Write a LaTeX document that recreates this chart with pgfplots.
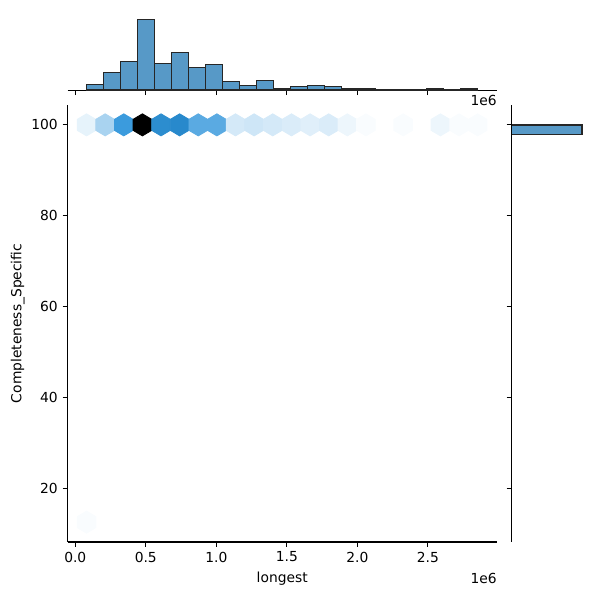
\documentclass[border=0pt]{standalone}
\usepackage{fontspec}
\setmainfont{DejaVu Sans}
\usepackage{pgfplots}
\pgfplotsset{compat=1.18}
\definecolor{histfill}{HTML}{5799C7}
\pgfdeclareplotmark{hexagon}{%
  \pgfpathmoveto{\pgfqpoint{0bp}{7.94bp}}%
  \pgfpathlineto{\pgfqpoint{6.70bp}{3.97bp}}%
  \pgfpathlineto{\pgfqpoint{6.70bp}{-3.97bp}}%
  \pgfpathlineto{\pgfqpoint{0bp}{-7.94bp}}%
  \pgfpathlineto{\pgfqpoint{-6.70bp}{-3.97bp}}%
  \pgfpathlineto{\pgfqpoint{-6.70bp}{3.97bp}}%
  \pgfpathclose
  \pgfusepathqfillstroke}
\pgfplotsset{
  mpl/.style={
    scale only axis,
    anchor=south west,
    tick align=outside,
    major tick length=3.5bp,
    tick style={line width=0.8bp, black},
    axis line style={-, line width=0.8bp, black},
    /pgf/number format/assume math mode=true,
    ticklabel style={font=\fontsize{10}{12}\selectfont},
    label style={font=\fontsize{10}{12}\selectfont},
  }
}
\pgfplotstableread{
x y c
0.080 100 4
0.212 100 14
0.344 100 32
0.476 100 71
0.608 100 36
0.740 100 37
0.872 100 27
1.004 100 27
1.136 100 7
1.268 100 8
1.400 100 7
1.533 100 6
1.665 100 5
1.797 100 6
1.929 100 3
2.061 100 1
2.325 100 1
2.589 100 3
2.721 100 1
2.853 100 1
0.080 12.5 1
}\hexdata
\pgfplotstableread{
x c
0.1403 6
0.2609 18
0.3814 29
0.5020 71
0.6226 27
0.7431 38
0.8637 23
0.9843 26
1.1048 9
1.2254 5
1.3460 10
1.4665 2
1.5871 4
1.7076 5
1.8282 4
1.9488 2
2.0693 1
2.1899 0
2.3105 0
2.4310 0
2.5516 2
2.6722 0
2.7927 1
}\histx
\begin{document}
\begin{tikzpicture}
\useasboundingbox (0,0) rectangle (432bp,432bp);
% main hexbin axis
\begin{axis}[mpl, name=main,
  at={(48.6bp,41.76bp)},
  width=309.24bp, height=314.64bp,
  xmin=-0.055, xmax=2.99, ymin=8.125, ymax=104.375,
  axis x line*=bottom, axis y line*=left,
  xtick={0,0.5,1,1.5,2,2.5},
  ytick={20,40,60,80,100},
  xticklabel style={/pgf/number format/fixed, /pgf/number format/fixed zerofill, /pgf/number format/precision=1},
  xlabel={longest}, ylabel={Completeness\_Specific},
  ylabel shift=-2bp,
  colormap={snsblue}{rgb=(1,1,1) rgb=(0.845,0.921,0.973) rgb=(0.690,0.842,0.947) rgb=(0.535,0.762,0.920) rgb=(0.380,0.683,0.893) rgb=(0.225,0.604,0.866) rgb=(0.134,0.513,0.775) rgb=(0.107,0.410,0.620) rgb=(0.080,0.308,0.465) rgb=(0.053,0.205,0.310) rgb=(0.027,0.103,0.155) rgb=(0,0,0)},
  point meta min=0, point meta max=71,
  clip=false,
]
\addplot[scatter, only marks, mark=hexagon, point meta=explicit,
  scatter/use mapped color={draw=mapped color, fill=mapped color},
  mark options={line width=0.6bp}]
  table[x=x, y=y, meta=c] {\hexdata};
\end{axis}
\node[anchor=north east, inner sep=0pt, font=\fontsize{10}{12}\selectfont] at ([yshift=-22bp]main.south east) {1e6};
% top marginal
\begin{axis}[mpl, name=top,
  at={(48.6bp,367.06bp)},
  width=309.24bp, height=53.4bp,
  xmin=-0.055, xmax=2.99, ymin=0, ymax=74.55,
  axis x line*=bottom, axis y line=none,
  xtick={0,0.5,1,1.5,2,2.5}, xticklabels={},
  ytick=\empty,
  clip=false,
]
\addplot[ybar, bar width=0.120565, fill=histfill, draw=black!85, line width=1bp]
  table[x=x, y=c] {\histx};
\end{axis}
\node[anchor=north east, inner sep=0pt, font=\fontsize{10}{12}\selectfont] at ([yshift=-3.5bp]top.south east) {1e6};
% right marginal
\begin{axis}[mpl,
  at={(368.28bp,41.76bp)},
  width=53.4bp, height=314.64bp,
  xmin=0, xmax=296, ymin=8.125, ymax=104.375,
  axis y line*=left, axis x line=none,
  ytick={20,40,60,80,100}, yticklabels={},
  xtick=\empty,
  axis on top,
  clip=false,
]
\addplot[xbar, bar width=2.1875, fill=histfill, draw=black!85, line width=1bp]
  coordinates {(282,98.90625)};
\end{axis}
\end{tikzpicture}
\end{document}
